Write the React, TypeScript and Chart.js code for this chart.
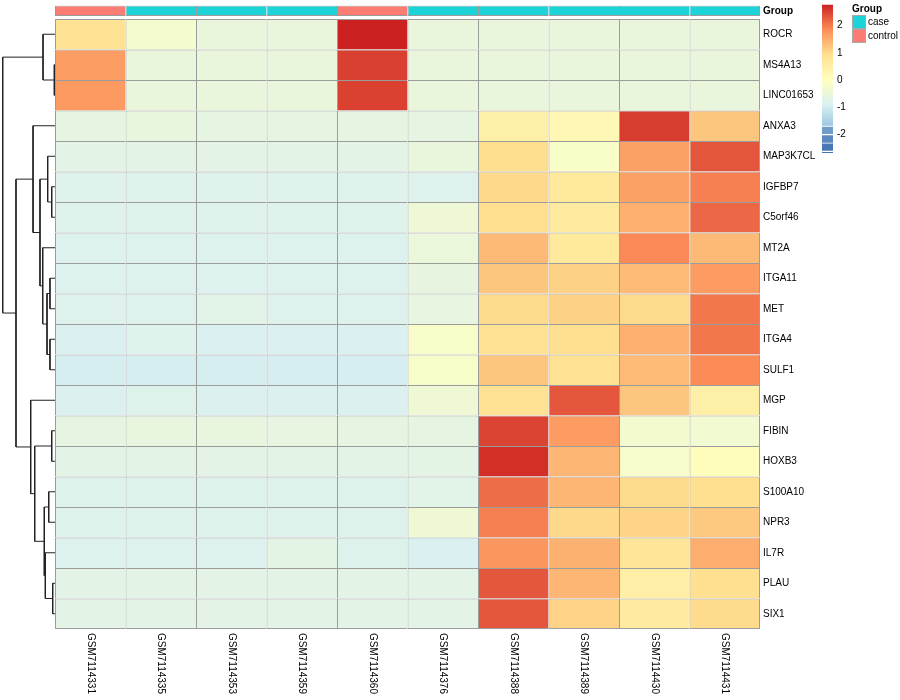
import React, { useEffect, useRef } from 'react';
import { Chart, registerables } from 'chart.js';

Chart.register(...registerables);

// ---------------- data ----------------
const genes = [
  'ROCR', 'MS4A13', 'LINC01653', 'ANXA3', 'MAP3K7CL', 'IGFBP7', 'C5orf46', 'MT2A', 'ITGA11', 'MET',
  'ITGA4', 'SULF1', 'MGP', 'FIBIN', 'HOXB3', 'S100A10', 'NPR3', 'IL7R', 'PLAU', 'SIX1',
];
const samples = [
  'GSM7114331', 'GSM7114335', 'GSM7114353', 'GSM7114359', 'GSM7114360',
  'GSM7114376', 'GSM7114388', 'GSM7114389', 'GSM7114430', 'GSM7114431',
];
const sampleGroups = ['control', 'case', 'case', 'case', 'control', 'case', 'case', 'case', 'case', 'case'];
const groupNames = ['case', 'control'];

// row-scaled expression (z-scores), rows follow `genes`, columns follow `samples`
const zScores: number[][] = [
  [0.85, -0.27, -0.52, -0.52, 2.77, -0.52, -0.52, -0.52, -0.52, -0.52],
  [1.66, -0.52, -0.52, -0.52, 2.51, -0.52, -0.52, -0.52, -0.52, -0.52],
  [1.71, -0.52, -0.52, -0.52, 2.5, -0.52, -0.52, -0.52, -0.52, -0.52],
  [-0.62, -0.55, -0.62, -0.62, -0.62, -0.62, 0.49, 0.2, 2.54, 1.22],
  [-0.7, -0.7, -0.7, -0.7, -0.7, -0.52, 0.95, -0.15, 1.63, 2.32],
  [-0.78, -0.78, -0.78, -0.78, -0.78, -0.82, 1.02, 0.67, 1.63, 1.96],
  [-0.78, -0.78, -0.78, -0.78, -0.78, -0.43, 0.93, 0.61, 1.46, 2.17],
  [-0.84, -0.84, -0.84, -0.84, -0.84, -0.49, 1.36, 0.67, 1.88, 1.36],
  [-0.84, -0.84, -0.84, -0.84, -0.84, -0.59, 1.22, 1.09, 1.34, 1.68],
  [-0.82, -0.82, -0.72, -0.82, -0.82, -0.6, 1.0, 1.09, 0.99, 2.04],
  [-0.9, -0.79, -0.9, -0.9, -0.9, -0.17, 0.9, 0.93, 1.46, 2.04],
  [-0.95, -0.95, -0.95, -0.95, -0.95, -0.18, 1.22, 0.9, 1.34, 1.86],
  [-0.86, -0.8, -0.86, -0.86, -0.86, -0.4, 0.9, 2.31, 1.22, 0.47],
  [-0.62, -0.57, -0.57, -0.6, -0.62, -0.62, 2.48, 1.68, -0.28, -0.33],
  [-0.7, -0.7, -0.7, -0.7, -0.7, -0.68, 2.65, 1.4, -0.2, 0.05],
  [-0.8, -0.8, -0.8, -0.8, -0.8, -0.72, 2.12, 1.4, 0.99, 0.93],
  [-0.8, -0.8, -0.8, -0.8, -0.8, -0.4, 1.96, 1.02, 1.06, 1.2],
  [-0.84, -0.84, -0.84, -0.68, -0.8, -0.9, 1.75, 1.45, 0.78, 1.5],
  [-0.7, -0.7, -0.7, -0.7, -0.7, -0.7, 2.31, 1.4, 0.5, 0.93],
  [-0.7, -0.7, -0.7, -0.7, -0.7, -0.7, 2.31, 1.08, 0.6, 0.98],
];

// row clustering (hclust style): negative = leaf -(rowIndex+1), positive = earlier merge (1-based); third = height
const rowMerges: [number, number, number][] = [
  [-2, -3, 0.013],
  [-1, 1, 0.229],
  [-6, -7, 0.063],
  [-5, 3, 0.14],
  [-9, -10, 0.096],
  [-11, -12, 0.096],
  [5, 6, 0.153],
  [-8, 7, 0.235],
  [4, 8, 0.287],
  [-4, 9, 0.42],
  [-14, -15, 0.063],
  [-16, -17, 0.12],
  [-19, -20, 0.044],
  [-18, 13, 0.185],
  [12, 14, 0.205],
  [11, 15, 0.388],
  [-13, 16, 0.465],
  [10, 17, 0.746],
  [2, 18, 1.0],
];

const legendTicks = [-2, -1, 0, 1, 2];
const legendMin = -2.75;
const legendMax = 2.77;
const legendSmoothLow = -1.68;
const legendBlocks: [number, number][] = [
  [-1.98, -1.71],
  [-2.3, -2.03],
  [-2.59, -2.33],
  [-2.68, -2.64],
];

// ---------------- styles ----------------
const FONT = "'Liberation Sans', Arial, Helvetica, sans-serif";
const GRID = '#9C9C9C';
const groupColors: Record<string, string> = { case: '#1CD3D8', control: '#FB7C72' };
const legendBlockColors = ['#6F9DC9', '#5B89BF', '#4B79B5', '#4575B4'];
const paletteStops: [number, string][] = [
  [-2.75, '#4575B4'],
  [-1.83, '#91BFDB'],
  [-0.91, '#DAF0F2'],
  [0, '#FFFFBF'],
  [0.93, '#FEE090'],
  [1.85, '#FC8D59'],
  [2.77, '#CC2121'],
];
const DEND_XMAX = 1.052; // dendrogram axis range (root sits just inside the left edge)

Chart.defaults.font.family = FONT;
Chart.defaults.font.size = 10;
Chart.defaults.color = '#000';

function hexToRgb(h: string) {
  const n = parseInt(h.slice(1), 16);
  return [(n >> 16) & 255, (n >> 8) & 255, n & 255];
}
function colorFor(v: number) {
  const s = paletteStops;
  if (v <= s[0][0]) return s[0][1];
  if (v >= s[s.length - 1][0]) return s[s.length - 1][1];
  for (let i = 0; i < s.length - 1; i++) {
    const [v0, c0] = s[i];
    const [v1, c1] = s[i + 1];
    if (v >= v0 && v <= v1) {
      const t = (v - v0) / (v1 - v0);
      const a = hexToRgb(c0);
      const b = hexToRgb(c1);
      const c = a.map((x, k) => Math.round(x + (b[k] - x) * t));
      return `rgb(${c[0]},${c[1]},${c[2]})`;
    }
  }
  return '#fff';
}

function dendroPoints() {
  const nodeY: number[] = [];
  const nodeH: number[] = [];
  const pts: { x: number; y: number }[] = [];
  const pos = (r: number) => (r < 0 ? { y: -r - 1, h: 0 } : { y: nodeY[r - 1], h: nodeH[r - 1] });
  rowMerges.forEach(([a, b, h], k) => {
    const A = pos(a);
    const B = pos(b);
    nodeY[k] = (A.y + B.y) / 2;
    nodeH[k] = h;
    pts.push(
      { x: A.h, y: A.y },
      { x: h, y: A.y },
      { x: h, y: B.y },
      { x: B.h, y: B.y },
      { x: NaN, y: NaN },
    );
  });
  return pts;
}

const zeroPad = (s: any) => {
  s.paddingTop = 0;
  s.paddingBottom = 0;
};

const colLabelPlugin = {
  id: 'colLabels',
  afterDraw(chart: any) {
    const { ctx, chartArea, scales } = chart;
    ctx.save();
    ctx.font = `10px ${FONT}`;
    ctx.fillStyle = '#000';
    ctx.textAlign = 'left';
    ctx.textBaseline = 'middle';
    samples.forEach((s, j) => {
      const x = scales.x.getPixelForValue(j + 0.5);
      ctx.save();
      ctx.translate(x, chartArea.bottom + 4);
      ctx.rotate(Math.PI / 2);
      ctx.fillText(s, 0, 0);
      ctx.restore();
    });
    ctx.restore();
  },
};

function mainConfig(): any {
  const bars = samples.map((s, j) => ({
    label: s,
    data: genes.map(() => 1),
    backgroundColor: genes.map((_, i) => colorFor(zScores[i][j])),
    borderColor: GRID,
    borderWidth: (c: any) => ({
      top: 1,
      left: 1,
      right: j === samples.length - 1 ? 1 : 0,
      bottom: c.dataIndex === genes.length - 1 ? 1 : 0,
    }),
    borderSkipped: false,
    inflateAmount: 0,
    barPercentage: 1,
    categoryPercentage: 1,
    stack: 'heat',
  }));
  return {
    type: 'bar',
    data: { labels: genes, datasets: bars },
    options: {
      indexAxis: 'y',
      responsive: false,
      animation: false,
      events: [],
      layout: { padding: { top: 19, bottom: 71, left: 55, right: 0 } },
      plugins: { legend: { display: false }, tooltip: { enabled: false }, title: { display: false } },
      scales: {
        x: { type: 'linear', min: 0, max: samples.length, stacked: true, display: false, offset: false },
        y: {
          type: 'category',
          position: 'right',
          offset: true,
          stacked: true,
          grid: { display: false, drawTicks: false },
          border: { display: false },
          ticks: { autoSkip: false, padding: 3, color: '#000', font: { size: 10 } },
          afterFit: (s: any) => {
            s.width = 140;
            zeroPad(s);
          },
        },
      },
    },
    plugins: [colLabelPlugin],
  };
}

function dendroConfig(): any {
  return {
    type: 'line',
    data: {
      datasets: [
        {
          data: dendroPoints(),
          borderColor: '#222',
          borderWidth: 1,
          pointRadius: 0,
          fill: false,
          tension: 0,
          spanGaps: false,
        },
      ],
    },
    options: {
      responsive: false,
      animation: false,
      events: [],
      layout: { padding: { top: 19, bottom: 71, left: 0, right: 0 } },
      plugins: { legend: { display: false }, tooltip: { enabled: false } },
      scales: {
        x: { type: 'linear', min: 0, max: DEND_XMAX, reverse: true, display: false },
        y: { type: 'linear', min: -0.5, max: genes.length - 0.5, reverse: true, display: false },
      },
    },
  };
}

function annConfig(): any {
  return {
    type: 'bar',
    data: {
      labels: ['Group'],
      datasets: samples.map((s, j) => ({
        label: s,
        data: [1],
        backgroundColor: groupColors[sampleGroups[j]],
        borderColor: GRID,
        borderWidth: { top: 1, left: 1, bottom: 1, right: j === samples.length - 1 ? 1 : 0 },
        borderSkipped: false,
        inflateAmount: 0,
        barPercentage: 1,
        categoryPercentage: 1,
      })),
    },
    options: {
      indexAxis: 'y',
      responsive: false,
      animation: false,
      events: [],
      layout: { padding: { top: 5.5, bottom: 3, left: 55, right: 0 } },
      plugins: { legend: { display: false }, tooltip: { enabled: false } },
      scales: {
        x: { type: 'linear', min: 0, max: samples.length, stacked: true, display: false, offset: false },
        y: {
          type: 'category',
          position: 'right',
          offset: true,
          stacked: true,
          grid: { display: false, drawTicks: false },
          border: { display: false },
          ticks: { autoSkip: false, padding: 3, color: '#000', font: { size: 10, weight: 'bold' } },
          afterFit: (s: any) => {
            s.width = 140;
            zeroPad(s);
          },
        },
      },
    },
  };
}

function colorBarConfig(): any {
  const gradientFill = (c: any) => {
    const chart = c.chart;
    if (!chart.chartArea) return 'transparent';
    const ys = chart.scales.y;
    const top = ys.getPixelForValue(legendMax);
    const bot = ys.getPixelForValue(legendSmoothLow);
    const g = chart.ctx.createLinearGradient(0, top, 0, bot);
    const vals = [
      legendMax,
      ...paletteStops.map((p) => p[0]).filter((v) => v < legendMax && v > legendSmoothLow),
      legendSmoothLow,
    ];
    vals.forEach((v) => g.addColorStop((legendMax - v) / (legendMax - legendSmoothLow), colorFor(v)));
    return g;
  };
  const common = { borderWidth: 0, grouped: false, barPercentage: 1, categoryPercentage: 1, inflateAmount: 0 };
  return {
    type: 'bar',
    data: {
      labels: [''],
      datasets: [
        { ...common, data: [[legendSmoothLow, legendMax]], backgroundColor: gradientFill },
        ...legendBlocks.map((b, k) => ({ ...common, data: [b], backgroundColor: legendBlockColors[k] })),
      ],
    },
    options: {
      responsive: false,
      animation: false,
      events: [],
      layout: { padding: { top: 4.5, bottom: 5, left: 22, right: 0 } },
      plugins: { legend: { display: false }, tooltip: { enabled: false } },
      scales: {
        x: { type: 'category', display: false, offset: true },
        y: {
          type: 'linear',
          position: 'right',
          min: legendMin,
          max: legendMax,
          grid: { display: false, drawTicks: false },
          border: { display: false },
          ticks: { padding: 4, color: '#000', font: { size: 10 } },
          afterBuildTicks: (s: any) => {
            s.ticks = legendTicks.map((v) => ({ value: v }));
          },
          afterFit: (s: any) => {
            s.width = 19;
            zeroPad(s);
          },
        },
      },
    },
  };
}

function groupLegendConfig(): any {
  return {
    type: 'bar',
    data: {
      labels: groupNames,
      datasets: [
        {
          data: groupNames.map(() => 1),
          backgroundColor: groupNames.map((g) => groupColors[g]),
          borderColor: '#A8A8A8',
          borderWidth: 1,
          borderSkipped: false,
          inflateAmount: 0,
          barPercentage: 1,
          categoryPercentage: 1,
        },
      ],
    },
    options: {
      indexAxis: 'y',
      responsive: false,
      animation: false,
      events: [],
      layout: { padding: { top: 0, bottom: 1, left: 0, right: 0 } },
      plugins: {
        legend: { display: false },
        tooltip: { enabled: false },
        title: {
          display: true,
          text: 'Group',
          align: 'start',
          color: '#000',
          font: { size: 10, weight: 'bold' },
          padding: { top: 3, bottom: 0 },
        },
      },
      scales: {
        x: { type: 'linear', min: 0, max: 1, display: false, offset: false },
        y: {
          type: 'category',
          position: 'right',
          offset: true,
          grid: { display: false, drawTicks: false },
          border: { display: false },
          ticks: { autoSkip: false, padding: 2, color: '#000', font: { size: 10 } },
          afterFit: (s: any) => {
            s.width = 34;
            zeroPad(s);
          },
        },
      },
    },
  };
}

export default function App() {
  const mainRef = useRef<HTMLCanvasElement>(null);
  const dendRef = useRef<HTMLCanvasElement>(null);
  const annRef = useRef<HTMLCanvasElement>(null);
  const barRef = useRef<HTMLCanvasElement>(null);
  const grpRef = useRef<HTMLCanvasElement>(null);

  useEffect(() => {
    const charts = [
      new Chart(mainRef.current!, mainConfig()),
      new Chart(dendRef.current!, dendroConfig()),
      new Chart(annRef.current!, annConfig()),
      new Chart(barRef.current!, colorBarConfig()),
      new Chart(grpRef.current!, groupLegendConfig()),
    ];
    return () => charts.forEach((c) => c.destroy());
  }, []);

  const abs = (left: number, top: number): React.CSSProperties => ({ position: 'absolute', left, top });
  return (
    <div style={{ position: 'absolute', left: 0, top: 0, width: 900, height: 700, background: '#fff' }}>
      <canvas ref={mainRef} width={900} height={700} style={abs(0, 0)} />
      <canvas ref={dendRef} width={55} height={700} style={abs(0, 0)} />
      <canvas ref={annRef} width={900} height={19} style={abs(0, 0)} />
      <canvas ref={barRef} width={52} height={160} style={abs(800, 0)} />
      <canvas ref={grpRef} width={48} height={44} style={abs(852, 0)} />
    </div>
  );
}
